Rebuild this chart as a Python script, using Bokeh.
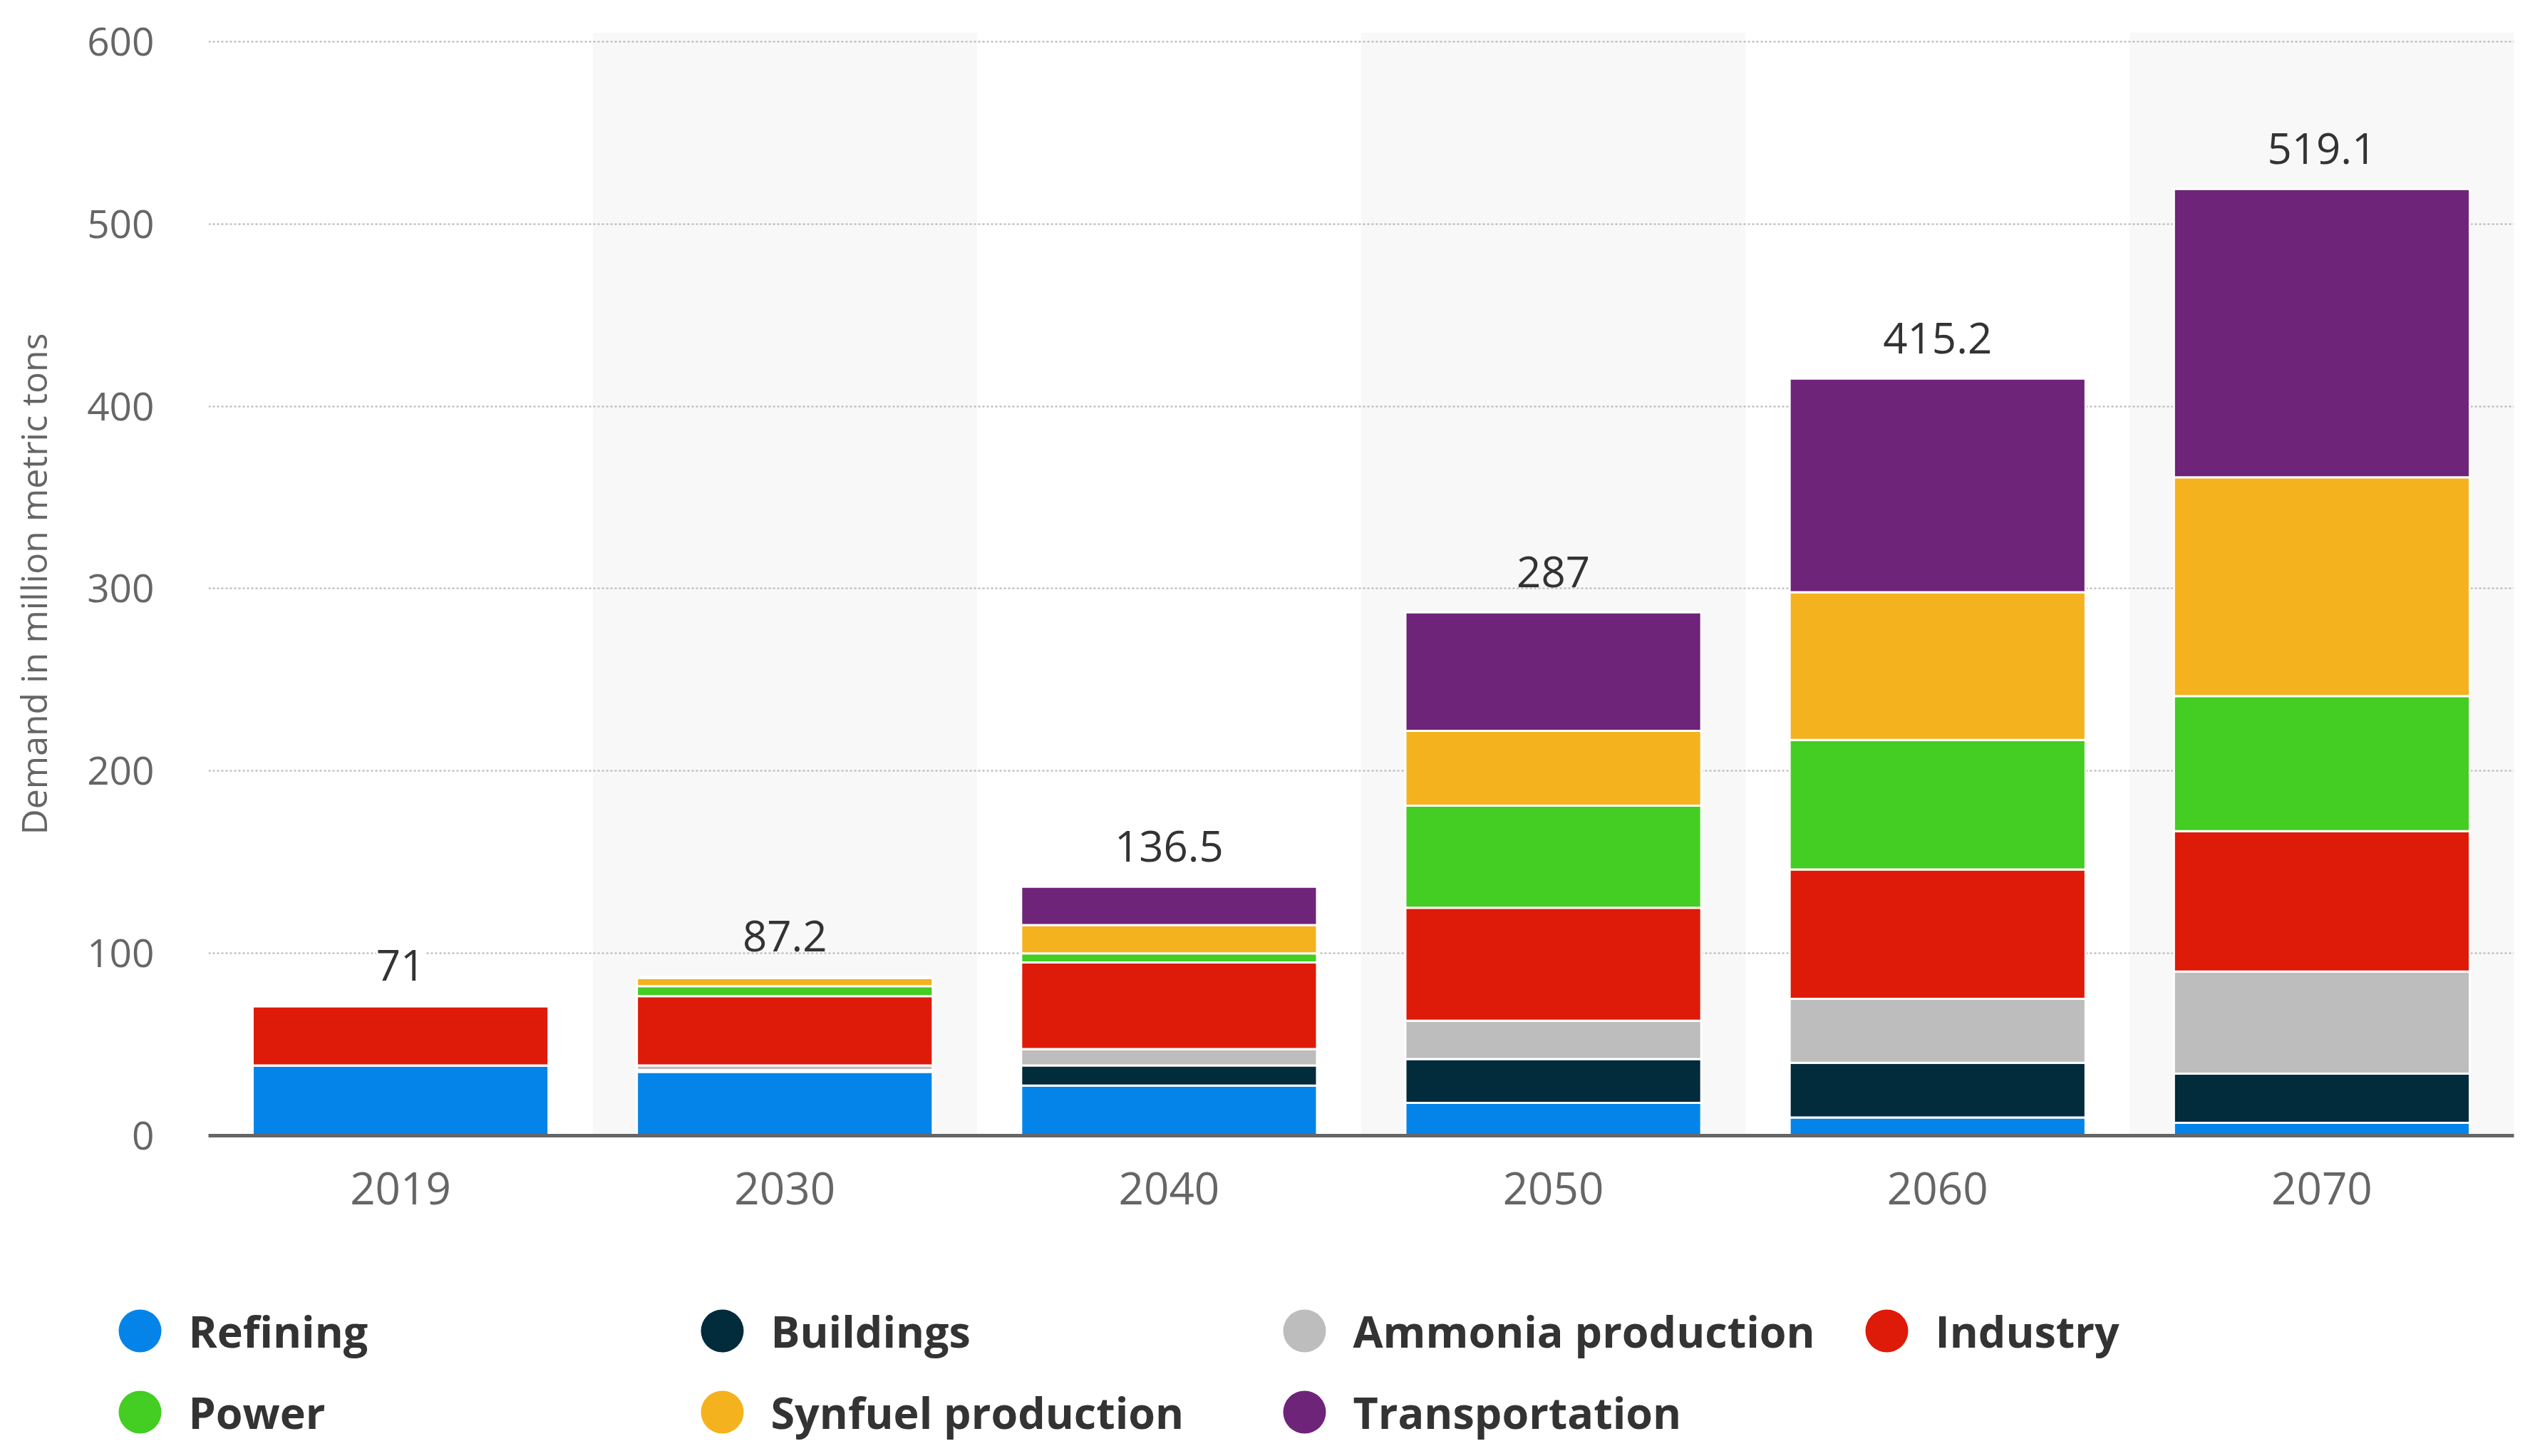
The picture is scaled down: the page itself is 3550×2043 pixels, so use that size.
from bokeh.plotting import figure
from bokeh.models import ColumnDataSource, FactorRange, Range1d, LabelSet, FixedTicker
from bokeh.layouts import column
from bokeh.core.properties import value
from bokeh.embed import file_html
from bokeh.resources import INLINE

# ---------------- data ----------------
years = ["2019", "2030", "2040", "2050", "2060", "2070"]
refining = [38.5, 35.0, 27.5, 18.0, 10.0, 7.0]
buildings = [0.0, 1.0, 11.0, 24.0, 30.0, 27.0]
ammonia = [0.0, 2.5, 9.0, 21.0, 35.0, 56.0]
industry = [32.5, 38.0, 47.5, 62.0, 71.0, 77.0]
power = [0.0, 5.5, 5.0, 56.0, 71.0, 74.0]
synfuel = [0.0, 4.5, 15.5, 41.0, 81.0, 120.0]
transportation = [0.0, 0.7, 21.0, 65.0, 117.2, 158.1]
totals = [71, 87.2, 136.5, 287, 415.2, 519.1]
total_labels = ["71", "87.2", "136.5", "287", "415.2", "519.1"]

series_names = ["Refining", "Buildings", "Ammonia production", "Industry",
                "Power", "Synfuel production", "Transportation"]
series_keys = ["refining", "buildings", "ammonia", "industry",
               "power", "synfuel", "transportation"]
colors = ["#0484e8", "#022b3b", "#bdbdbd", "#de1a09",
          "#44cd22", "#f5b21f", "#6e2478"]

y_ticks = [0, 100, 200, 300, 400, 500, 600]
band_years = ["2030", "2050", "2070"]

FONT = "Open Sans"
BAND = "#f8f8f8"
W = 3534
H_MAIN, H_LEG = 1752, 275


def no_frame_align(fig):
    if "frame_align" in fig.properties():
        fig.frame_align = False


# ---------------- main chart ----------------
p = figure(x_range=FactorRange(*years, range_padding=0),
           y_range=Range1d(0, 605),
           width=W, height=H_MAIN,
           output_backend="svg", toolbar_location=None,
           min_border_left=292, min_border_right=7,
           min_border_top=45, min_border_bottom=159)
p.outline_line_color = None
p.background_fill_color = "white"
no_frame_align(p)

# alternating light bands
band_src = ColumnDataSource(dict(x=band_years, top=[605] * len(band_years)))
p.vbar(x="x", top="top", bottom=0, width=1.0, source=band_src,
       fill_color=BAND, line_color=None, level="image")

data = dict(years=years, refining=refining, buildings=buildings, ammonia=ammonia,
            industry=industry, power=power, synfuel=synfuel,
            transportation=transportation)
src = ColumnDataSource(data)
p.vbar_stack(series_keys, x="years", width=0.77, source=src,
             fill_color=colors, line_color="white", line_width=3)

# total labels
lab_src = ColumnDataSource(dict(years=years, totals=totals, labels=total_labels,
                                bg=["white" if y not in band_years else BAND for y in years]))
labels = LabelSet(x="years", y="totals", text="labels", source=lab_src,
                  text_align="center", text_baseline="middle", y_offset=57,
                  text_font=value(FONT), text_font_size="60px", text_color="#333333",
                  background_fill_color="bg")
p.add_layout(labels)

# grid
p.xgrid.grid_line_color = None
p.ygrid.ticker = FixedTicker(ticks=y_ticks[1:])
p.ygrid.grid_line_color = "#b4b4b4"
p.ygrid.grid_line_dash = "3 3"
p.ygrid.grid_line_width = 2

# y axis
p.yaxis.ticker = FixedTicker(ticks=y_ticks)
p.yaxis.axis_line_color = None
p.yaxis.major_tick_line_color = None
p.yaxis.minor_tick_line_color = None
p.yaxis.major_label_standoff = 70
p.yaxis.major_label_text_font = FONT
p.yaxis.major_label_text_font_size = "55px"
p.yaxis.major_label_text_color = "#666666"
p.yaxis.axis_label = "Demand in million metric tons"
p.yaxis.axis_label_text_font = FONT
p.yaxis.axis_label_text_font_size = "50px"
p.yaxis.axis_label_text_font_style = "normal"
p.yaxis.axis_label_text_color = "#666666"
p.yaxis.axis_label_standoff = 38

# x axis
p.xaxis.axis_line_color = "#666666"
p.xaxis.axis_line_width = 5
p.xaxis.major_tick_line_color = None
p.xaxis.minor_tick_line_color = None
p.xaxis.major_label_standoff = 45
p.xaxis.major_label_text_font = FONT
p.xaxis.major_label_text_font_size = "62px"
p.xaxis.major_label_text_color = "#666666"

# ---------------- legend (separate panel, pixel coordinates) ----------------
lg = figure(width=W, height=H_LEG, x_range=Range1d(0, W), y_range=Range1d(0, H_LEG),
            output_backend="svg", toolbar_location=None,
            x_axis_type=None, y_axis_type=None, min_border=0)
lg.outline_line_color = None
lg.grid.visible = False
no_frame_align(lg)

ncols = 4
col_x0, col_step = 196, 817
row_y = [160, 46]
mx, my, tx = [], [], []
for i, name in enumerate(series_names):
    r, c = divmod(i, ncols)
    mx.append(col_x0 + c * col_step)
    my.append(row_y[r])
    tx.append(col_x0 + c * col_step + 68)

lg.scatter(x=mx, y=my, size=60, marker="circle", fill_color=colors, line_color=None)
lg.text(x=tx, y=my, text=series_names, text_font=value(FONT), text_font_size="61px",
        text_font_style="bold", text_baseline="middle", text_align="left",
        text_color="#333333")

layout = column(p, lg)
open("out.html", "w").write(file_html(layout, INLINE))
